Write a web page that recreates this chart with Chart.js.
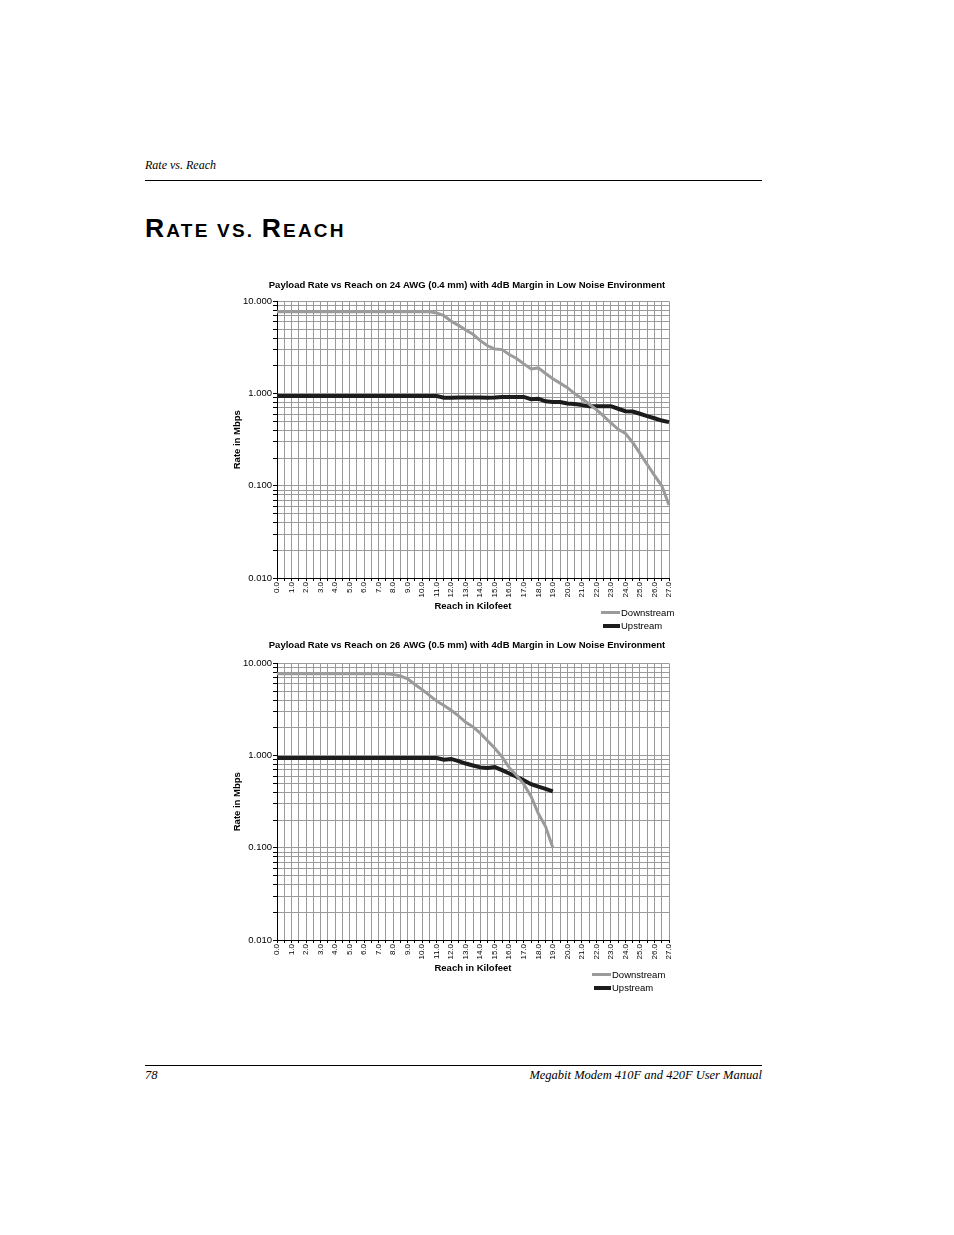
<!DOCTYPE html>
<html>
<head>
<meta charset="utf-8">
<title>Rate vs. Reach</title>
<script src="https://cdn.jsdelivr.net/npm/chart.js@4.4.1/dist/chart.umd.min.js"></script>
<style>
  body { margin: 0; background: #fff; }
  #page { position: relative; width: 954px; height: 1235px; overflow: hidden; background: #fff; }
  .serif { position: absolute; font-family: "Liberation Serif", "Times New Roman", serif; font-style: italic; font-size: 12px; line-height: 12px; color: #000; white-space: nowrap; }
  .rule { position: absolute; left: 145px; width: 617px; height: 1px; background: #000; }
  #heading { position: absolute; left: 145px; top: 215px; font-family: "Liberation Sans", Arial, sans-serif; font-weight: bold; line-height: 27px; color: #000; white-space: nowrap; letter-spacing: 2.2px; }
  #heading .big { font-size: 26.5px; }
  #heading .small { font-size: 19px; }
  .box { position: absolute; }
  .legend { position: absolute; font-family: "Liberation Sans", Arial, sans-serif; font-size: 9.5px; line-height: 13px; color: #000; white-space: nowrap; }
  .legend div { height: 13px; display: flex; align-items: center; }
  .legend span.swatch { display: inline-block; width: 19px; margin-right: 1px; }
</style>
</head>
<body>
<div id="page">
  <div class="serif" style="left:145px; top:159px;">Rate vs. Reach</div>
  <div class="rule" style="top:180px;"></div>
  <div id="heading"><span class="big">R</span><span class="small">ATE VS. </span><span class="big">R</span><span class="small">EACH</span></div>

  <div class="box" style="left:225px; top:276px; width:484px; height:336px;"><canvas id="chart24"></canvas></div>
  <div class="legend" style="left:601px; top:606px;">
    <div><span class="swatch" style="height:3px; background:#9b9b9b;"></span>Downstream</div>
    <div><span class="swatch" style="height:4px; background:#1c1c1c; width:17px; margin-left:2px;"></span>Upstream</div>
  </div>

  <div class="box" style="left:225px; top:636px; width:484px; height:338px;"><canvas id="chart26"></canvas></div>
  <div class="legend" style="left:592px; top:968px;">
    <div><span class="swatch" style="height:3px; background:#9b9b9b;"></span>Downstream</div>
    <div><span class="swatch" style="height:4px; background:#1c1c1c; width:17px; margin-left:2px;"></span>Upstream</div>
  </div>

  <div class="rule" style="top:1065px;"></div>
  <div class="serif" style="left:145px; top:1069px; font-size:12.5px; line-height:13px;">78</div>
  <div class="serif" style="right:192px; top:1069px; font-size:12.5px; line-height:13px;">Megabit Modem 410F and 420F User Manual</div>
</div>

<script>
// reach in kilofeet, one point every 0.5 kft
const reach = [
  "0.0","0.5","1.0","1.5","2.0","2.5","3.0","3.5","4.0","4.5",
  "5.0","5.5","6.0","6.5","7.0","7.5","8.0","8.5","9.0","9.5",
  "10.0","10.5","11.0","11.5","12.0","12.5","13.0","13.5","14.0","14.5",
  "15.0","15.5","16.0","16.5","17.0","17.5","18.0","18.5","19.0","19.5",
  "20.0","20.5","21.0","21.5","22.0","22.5","23.0","23.5","24.0","24.5",
  "25.0","25.5","26.0","26.5","27.0"
];

// 24 AWG (0.4 mm), Mbps
const down24 = [
  7.7, 7.7, 7.7, 7.7, 7.7, 7.7, 7.7, 7.7, 7.7, 7.7,
  7.7, 7.7, 7.7, 7.7, 7.7, 7.7, 7.7, 7.7, 7.7, 7.7,
  7.7, 7.7, 7.5, 7.0, 6.1, 5.5, 4.9, 4.4, 3.75, 3.3,
  3.05, 3.0, 2.65, 2.4, 2.1, 1.85, 1.9, 1.65, 1.45, 1.3,
  1.16, 1.0, 0.88, 0.77, 0.67, 0.57, 0.48, 0.41, 0.37, 0.295,
  0.225, 0.17, 0.13, 0.1, 0.062
];
const up24 = [
  0.94, 0.94, 0.94, 0.94, 0.94, 0.94, 0.94, 0.94, 0.94, 0.94,
  0.94, 0.94, 0.94, 0.94, 0.94, 0.94, 0.94, 0.94, 0.94, 0.94,
  0.94, 0.94, 0.94, 0.90, 0.90, 0.905, 0.91, 0.91, 0.905, 0.90,
  0.905, 0.92, 0.92, 0.92, 0.92, 0.87, 0.88, 0.825, 0.81, 0.81,
  0.78, 0.77, 0.75, 0.73, 0.73, 0.73, 0.73, 0.685, 0.645, 0.64,
  0.605, 0.57, 0.54, 0.51, 0.49
];

// 26 AWG (0.5 mm), Mbps - no data past 19 kft
const down26 = [
  7.7, 7.7, 7.7, 7.7, 7.7, 7.7, 7.7, 7.7, 7.7, 7.7,
  7.7, 7.7, 7.7, 7.7, 7.7, 7.7, 7.6, 7.3, 6.8, 5.9,
  5.2, 4.5, 3.9, 3.5, 3.1, 2.7, 2.3, 2.05, 1.75, 1.45,
  1.2, 0.97, 0.74, 0.61, 0.49, 0.36, 0.235, 0.17, 0.10, null,
  null, null, null, null, null, null, null, null, null, null,
  null, null, null, null, null
];
const up26 = [
  0.94, 0.94, 0.94, 0.94, 0.94, 0.94, 0.94, 0.94, 0.94, 0.94,
  0.94, 0.94, 0.94, 0.94, 0.94, 0.94, 0.94, 0.94, 0.94, 0.94,
  0.94, 0.94, 0.94, 0.90, 0.92, 0.87, 0.82, 0.78, 0.745, 0.735,
  0.75, 0.695, 0.64, 0.59, 0.54, 0.49, 0.46, 0.435, 0.41, null,
  null, null, null, null, null, null, null, null, null, null,
  null, null, null, null, null
];

// log axis: grid at every 1..9 step, labels only on decades
const yGrid = [
  0.01, 0.02, 0.03, 0.04, 0.05, 0.06, 0.07, 0.08, 0.09,
  0.1, 0.2, 0.3, 0.4, 0.5, 0.6, 0.7, 0.8, 0.9,
  1, 2, 3, 4, 5, 6, 7, 8, 9, 10
];
const yDecades = [0.01, 0.1, 1, 10];
const yTickLabels = ["0.010", "0.100", "1.000", "10.000"];

const FONT = "'Liberation Sans', Arial, Helvetica, sans-serif";
const GREY = "#9b9b9b";
const DARK = "#1c1c1c";

function makeChart(id, title, down, up, titleGap) {
  return new Chart(document.getElementById(id), {
    type: "line",
    data: {
      labels: reach,
      datasets: [
        { label: "Downstream", data: down, borderColor: GREY, borderWidth: 3, pointRadius: 0, tension: 0, fill: false },
        { label: "Upstream", data: up, borderColor: DARK, borderWidth: 4, pointRadius: 0, tension: 0, fill: false }
      ]
    },
    options: {
      responsive: true,
      maintainAspectRatio: false,
      animation: false,
      layout: { padding: 0 },
      plugins: {
        legend: { display: false },
        tooltip: { enabled: false },
        title: {
          display: true,
          text: title,
          color: "#000",
          font: { family: FONT, size: 9.5, weight: "bold" },
          padding: { top: 4, bottom: titleGap }
        }
      },
      scales: {
        x: {
          type: "category",
          offset: false,
          border: { color: "#000", width: 1 },
          grid: { color: "#9a9a9a", lineWidth: 1, drawTicks: true, tickLength: 3, tickColor: "#000" },
          ticks: {
            autoSkip: false,
            minRotation: 90,
            maxRotation: 90,
            padding: 1,
            color: "#000",
            font: { family: FONT, size: 8 },
            callback: function (val, i) { return i % 2 === 0 ? this.getLabelForValue(val) : ""; }
          },
          title: {
            display: true,
            text: "Reach in Kilofeet",
            color: "#000",
            font: { family: FONT, size: 9.5, weight: "bold" },
            padding: { top: 0, bottom: 0 }
          },
          afterFit: (s) => { s.height = 34; }
        },
        y: {
          type: "logarithmic",
          min: 0.01,
          max: 10,
          border: { color: "#000", width: 1 },
          grid: { color: "#9a9a9a", lineWidth: 1, drawTicks: true, tickLength: 4, tickColor: "#000" },
          afterBuildTicks: (s) => { s.ticks = yGrid.map((v) => ({ value: v })); },
          ticks: {
            autoSkip: false,
            padding: 1,
            color: "#000",
            font: { family: FONT, size: 9.5 },
            callback: (v) => {
              const i = yDecades.indexOf(v);
              return i >= 0 ? yTickLabels[i] : "";
            }
          },
          title: {
            display: true,
            text: "Rate in Mbps",
            color: "#000",
            font: { family: FONT, size: 9.5, weight: "bold" },
            padding: { top: 7, bottom: 0 }
          },
          afterFit: (s) => { s.width = 52; }
        },
        // empty right-hand axis, only keeps space so the title centres like the original
        yRight: {
          type: "linear",
          position: "right",
          display: true,
          grid: { display: false, drawTicks: false },
          border: { display: false },
          ticks: { display: false },
          afterFit: (s) => { s.width = 40; }
        }
      }
    }
  });
}

makeChart("chart24", "Payload Rate vs Reach on 24 AWG (0.4 mm) with 4dB Margin in Low Noise Environment", down24, up24, 10);
makeChart("chart26", "Payload Rate vs Reach on 26 AWG (0.5 mm) with 4dB Margin in Low Noise Environment", down26, up26, 12);
</script>
</body>
</html>
